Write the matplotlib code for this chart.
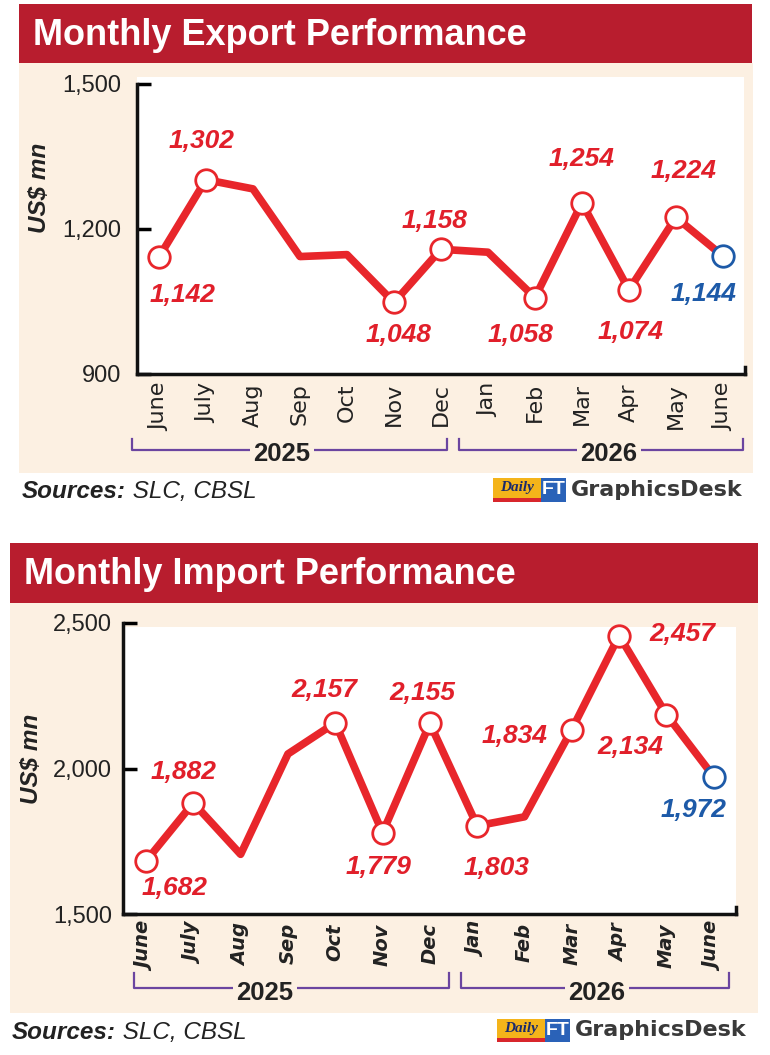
import matplotlib
matplotlib.use('Agg')
import matplotlib.pyplot as plt
from matplotlib.patches import Rectangle
from matplotlib.lines import Line2D

#%% data
months = ['June', 'July', 'Aug', 'Sep', 'Oct', 'Nov', 'Dec',
          'Jan', 'Feb', 'Mar', 'Apr', 'May', 'June']
years = ['2025', '2026']

exports = [1142, 1302, 1283, 1143, 1147, 1048, 1158, 1152, 1058, 1254, 1074, 1224, 1144]
imports = [1682, 1882, 1705, 2050, 2157, 1779, 2155, 1803, 1834, 2134, 2457, 2185, 1972]

exp_ticks = [900, 1200, 1500]
imp_ticks = [1500, 2000, 2500]

# which points get a circle / a value label (last one is the blue one)
exp_marked = [0, 1, 5, 6, 8, 9, 10, 11]
imp_marked = [0, 1, 4, 5, 6, 7, 9, 10, 11]
exp_labelled = [0, 1, 5, 6, 8, 9, 10, 11]
imp_labelled = [0, 1, 4, 5, 6, 7, 8, 9, 10]

#%% style
W, H = 770, 1055
RED = '#e8262b'
LBL_RED = '#e11f2a'
BLUE = '#1d5aa8'
HEAD = '#b81d2e'
BEIGE = '#fcf0e2'
PURPLE = '#6b45a0'
INK = '#222222'
SANS = ['Liberation Sans', 'DejaVu Sans']

# label offsets in pixels (dx, dy) keyed by point index
exp_offsets = {0: (24, -38), 1: (-4, 39), 5: (5, -33), 6: (-6, 28), 8: (-14, -37),
               9: (0, 44), 10: (2, -42), 11: (8, 46), 12: (-19, -38)}
imp_offsets = {0: (29, -27), 1: (-10, 31), 4: (-11, 33), 5: (-4, -34), 6: (-8, 30),
               7: (19, -42), 8: (-10, 81), 9: (59, -17), 10: (63, 2), 12: (-20, -33)}

fig = plt.figure(figsize=(W / 100, H / 100), dpi=100)
fig.patch.set_facecolor('white')


def frect(x0, y0, x1, y1, color, z=-10):
    fig.add_artist(Rectangle((x0 / W, 1 - y1 / H), (x1 - x0) / W, (y1 - y0) / H,
                             transform=fig.transFigure, facecolor=color,
                             edgecolor='none', zorder=z))


def fline(xs, ys, color, lw):
    fig.add_artist(Line2D([x / W for x in xs], [1 - y / H for y in ys],
                          transform=fig.transFigure, color=color, lw=lw, zorder=-5))


def ftext(x, y, s, **kw):
    return fig.text(x / W, 1 - y / H, s, **kw)


def draw_panel(title, values, ticks, marked, labelled, offsets, lay, xfont):
    frect(*lay['band'], HEAD)
    frect(*lay['beige'], BEIGE)
    frect(*lay['white'], 'white', z=-9)
    ftext(lay['title'][0], lay['title'][1], title, color='white', fontsize=26,
          fontweight='bold', family=SANS, va='baseline')

    l, t, r, b = lay['axes']
    ax = fig.add_axes([l / W, 1 - b / H, (r - l) / W, (b - t) / H])
    ax.set_facecolor('none')
    x = list(range(len(values)))
    ax.plot(x, values, color=RED, lw=5.5, solid_capstyle='round',
            solid_joinstyle='round', zorder=2)
    ax.plot([x[i] for i in marked], [values[i] for i in marked], 'o', ms=15.5,
            mfc='white', mec=RED, mew=2, zorder=3)
    ax.plot(x[-1], values[-1], 'o', ms=15.5, mfc='white', mec=BLUE, mew=2, zorder=3)

    for i in labelled + [len(values) - 1]:
        dx, dy = offsets[i]
        col = BLUE if i == len(values) - 1 else LBL_RED
        ax.annotate(f'{values[i]:,}', (x[i], values[i]), xytext=(dx, dy),
                    textcoords='offset pixels', ha='center', va='center',
                    color=col, fontsize=19, fontweight='bold', fontstyle='italic',
                    family=SANS, annotation_clip=False, zorder=4)

    ax.set_xlim(*lay['xlim'])
    ax.set_ylim(ticks[0], ticks[-1])
    ax.set_yticks(ticks)
    ax.set_yticklabels([f'{v:,}' for v in ticks], fontsize=17, family=SANS, color=INK)
    ax.set_xticks(x)
    ax.set_xticklabels(months, rotation=90, color=INK, **xfont)
    ax.tick_params(axis='y', direction='in', length=10, width=2.5, pad=lay['ypad'])
    ax.tick_params(axis='x', length=0, pad=6.5)
    for s in ['top', 'right']:
        ax.spines[s].set_visible(False)
    for s in ['left', 'bottom']:
        ax.spines[s].set_linewidth(2.5)
        ax.spines[s].set_color('#111111')
    # little end stub on the bottom axis
    ax.plot([1, 1], [0, 0.025], transform=ax.transAxes, color='#111111', lw=2.5,
            clip_on=False)

    ftext(lay['ylabel'][0], lay['ylabel'][1], 'US$ mn', rotation=90, ha='center',
          va='center', fontsize=17.5, fontweight='bold', fontstyle='italic',
          family=SANS, color=INK)

    # year brackets
    ly, ty = lay['bracket_y']
    for (bx0, bx1), cx, yr in zip(lay['brackets'], lay['year_x'], years):
        fline([bx0, bx0, bx1, bx1], [ty, ly, ly, ty], PURPLE, 1.6)
        ftext(cx, lay['year_y'], yr, ha='center', va='center', fontsize=18.5,
              fontweight='bold', family=SANS, color=INK,
              bbox=dict(boxstyle='square,pad=0.15', fc=BEIGE, ec='none'))

    # sources line
    sx, sy = lay['sources']
    t1 = ftext(sx, sy, 'Sources:', fontsize=17.5, fontweight='bold', fontstyle='italic',
               family=SANS, color=INK, va='baseline')
    ax.annotate(' SLC, CBSL', xy=(1, 0), xycoords=t1, ha='left', va='bottom',
                fontsize=17.5, fontstyle='italic', family=SANS, color=INK,
                annotation_clip=False)
    return ax


def logo(x0, y0, y1):
    frect(x0, y0, x0 + 48, y1, '#f4b41a', z=-4)
    frect(x0, y1 - 4, x0 + 48, y1, '#d8262c', z=-3)
    ftext(x0 + 24, (y0 + y1) / 2 - 2, 'Daily', ha='center', va='center', fontsize=11,
          fontweight='bold', fontstyle='italic', family=['Liberation Serif', 'DejaVu Serif'],
          color='#1a2a6c')
    frect(x0 + 48, y0, x0 + 73, y1, '#2a62b8', z=-4)
    ftext(x0 + 60.5, (y0 + y1) / 2, 'FT', ha='center', va='center', fontsize=14,
          fontweight='bold', family=SANS, color='white')
    ftext(x0 + 78, (y0 + y1) / 2, 'GraphicsDesk', ha='left', va='center', fontsize=16,
          fontweight='bold', family=['DejaVu Sans'], color='#3a3a3a')


exp_lay = dict(band=(19, 4, 752, 63), beige=(19, 63, 753, 473), white=(137, 77, 744, 374),
               axes=(137, 84, 745, 374), xlim=(-0.468, 12.47), title=(33, 45),
               ylabel=(40, 188), ypad=11, brackets=[(132, 447), (459, 743)],
               bracket_y=(450, 439), year_x=[282, 609], year_y=454, sources=(22, 498))
imp_lay = dict(band=(10, 543, 758, 603), beige=(10, 603, 758, 1013), white=(123, 627, 736, 914),
               axes=(123, 623, 736, 914), xlim=(-0.486, 12.47), title=(24, 584),
               ylabel=(32, 759), ypad=8, brackets=[(134, 449), (461, 729)],
               bracket_y=(988, 973), year_x=[265, 597], year_y=993, sources=(12, 1039))

exp_xfont = dict(fontsize=16, family=['DejaVu Sans'])
imp_xfont = dict(fontsize=14, family=['DejaVu Sans'], fontweight='bold', fontstyle='italic')

#%% draw
ax1 = draw_panel('Monthly Export Performance', exports, exp_ticks, exp_marked,
                 exp_labelled, exp_offsets, exp_lay, exp_xfont)
ax2 = draw_panel('Monthly Import Performance', imports, imp_ticks, imp_marked,
                 imp_labelled, imp_offsets, imp_lay, imp_xfont)
logo(493, 478, 502)
logo(497, 1019, 1042)

fig.savefig('out.png', dpi=100)
